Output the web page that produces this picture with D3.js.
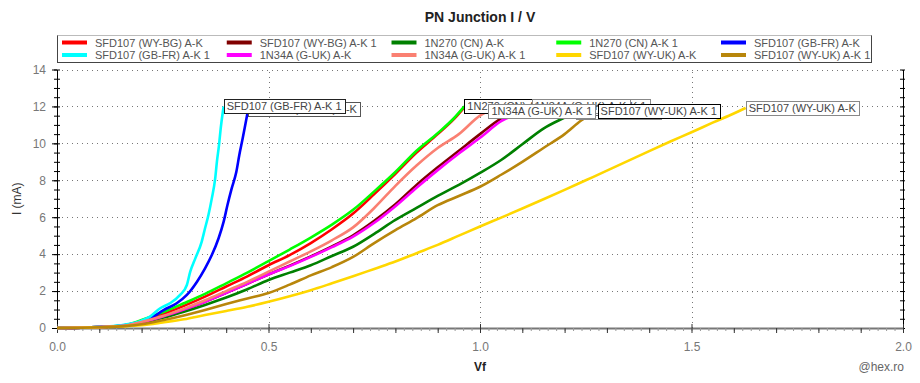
<!DOCTYPE html>
<html><head><meta charset="utf-8">
<script src="https://cdn.jsdelivr.net/npm/d3@7"></script>
<style>
html,body{margin:0;padding:0;background:#fff;}
svg{display:block;font-family:"Liberation Sans",Arial,sans-serif;}
</style></head>
<body><svg id="c" width="920" height="383"></svg>
<script>
// ---------------- DATA ----------------
const seriesNames = [
  "SFD107 (WY-BG) A-K", "SFD107 (WY-BG) A-K 1", "1N270 (CN) A-K", "1N270 (CN) A-K 1", "SFD107 (GB-FR) A-K",
  "SFD107 (GB-FR) A-K 1", "1N34A (G-UK) A-K", "1N34A (G-UK) A-K 1", "SFD107 (WY-UK) A-K", "SFD107 (WY-UK) A-K 1"
];
const seriesColors = ["#ff0000","#800000","#008000","#00ff00","#0000ff","#00ffff","#ff00ff","#fa8072","#ffd700","#b8860b"];
const labelBorders = ["#888","#888","#888","#000","#555","#222","#888","#888","#888","#000"];

// [Vf (V), I (mA)]
const wyBgAK = [[0,0],[0.1,0.05],[0.16,0.14],[0.2,0.38],[0.25,0.75],[0.3,1.2],[0.35,1.7],[0.4,2.25],[0.45,2.8],[0.5,3.4],[0.55,3.95],[0.6,4.6],[0.65,5.35],[0.7,6.2],[0.75,7.25],[0.8,8.35],[0.85,9.5],[0.9,10.5],[0.94,11.35],[0.965,12.0]];
const wyBgAK1 = [[0,0],[0.1,0.05],[0.16,0.12],[0.2,0.3],[0.25,0.62],[0.3,1.0],[0.35,1.42],[0.4,1.9],[0.45,2.4],[0.5,2.9],[0.55,3.38],[0.6,3.88],[0.65,4.42],[0.7,5.02],[0.75,5.8],[0.8,6.7],[0.85,7.75],[0.9,8.7],[0.95,9.6],[1.0,10.5],[1.05,11.35],[1.11,12.0]];
const cnAK = [[0,0],[0.1,0.05],[0.16,0.12],[0.2,0.28],[0.25,0.55],[0.3,0.88],[0.35,1.25],[0.4,1.65],[0.45,2.1],[0.5,2.6],[0.55,3.0],[0.6,3.4],[0.65,3.9],[0.7,4.4],[0.75,5.1],[0.8,5.85],[0.85,6.5],[0.9,7.15],[0.95,7.75],[1.0,8.4],[1.05,9.1],[1.1,9.95],[1.15,10.8],[1.2,11.4],[1.226,11.7]];
const cnAK1 = [[0,0],[0.1,0.05],[0.16,0.15],[0.2,0.43],[0.25,0.85],[0.3,1.34],[0.35,1.85],[0.4,2.42],[0.45,3.0],[0.5,3.62],[0.55,4.25],[0.6,4.9],[0.65,5.6],[0.7,6.4],[0.75,7.4],[0.8,8.45],[0.85,9.6],[0.9,10.55],[0.94,11.4],[0.963,12.0]];
const gbFrAK = [[0,0],[0.1,0.05],[0.15,0.12],[0.2,0.35],[0.23,0.65],[0.252,0.97],[0.283,1.34],[0.307,1.79],[0.331,2.51],[0.35,3.23],[0.366,3.95],[0.382,4.86],[0.394,5.76],[0.403,6.66],[0.413,7.56],[0.424,8.46],[0.431,9.37],[0.439,10.27],[0.445,10.99],[0.45,11.6],[0.452,11.85]];
const gbFrAK1 = [[0,0],[0.1,0.07],[0.15,0.15],[0.2,0.4],[0.22,0.62],[0.244,1.07],[0.267,1.34],[0.291,1.79],[0.307,2.33],[0.315,3.05],[0.327,3.77],[0.342,4.67],[0.35,5.4],[0.358,6.12],[0.366,7.02],[0.374,8.1],[0.378,9.0],[0.383,9.91],[0.387,10.81],[0.392,11.7],[0.394,12.0]];
const gUkAK = [[0,0],[0.1,0.05],[0.16,0.12],[0.2,0.3],[0.25,0.62],[0.3,1.0],[0.35,1.42],[0.4,1.9],[0.45,2.4],[0.5,2.9],[0.55,3.35],[0.6,3.85],[0.65,4.38],[0.7,4.95],[0.75,5.7],[0.8,6.6],[0.85,7.6],[0.9,8.55],[0.95,9.45],[1.0,10.3],[1.05,11.2],[1.088,11.6],[1.122,12.0]];
const gUkAK1 = [[0,0],[0.1,0.05],[0.16,0.12],[0.2,0.33],[0.25,0.65],[0.3,1.05],[0.35,1.5],[0.4,2.0],[0.45,2.5],[0.5,3.05],[0.55,3.6],[0.6,4.15],[0.65,4.75],[0.7,5.45],[0.75,6.5],[0.8,7.7],[0.85,8.8],[0.9,9.75],[0.95,10.5],[1.0,11.5],[1.02,11.76]];
const wyUkAK = [[0,0],[0.1,0.04],[0.15,0.08],[0.2,0.15],[0.25,0.3],[0.3,0.47],[0.35,0.7],[0.4,0.92],[0.45,1.15],[0.5,1.42],[0.55,1.72],[0.6,2.05],[0.65,2.42],[0.7,2.8],[0.75,3.2],[0.8,3.6],[0.85,4.05],[0.9,4.5],[0.95,5.0],[1.0,5.5],[1.05,5.98],[1.1,6.47],[1.15,6.97],[1.2,7.48],[1.25,8.0],[1.3,8.52],[1.35,9.05],[1.4,9.58],[1.45,10.1],[1.5,10.6],[1.55,11.12],[1.6,11.62],[1.628,11.92]];
const wyUkAK1 = [[0,0],[0.1,0.04],[0.16,0.1],[0.2,0.2],[0.25,0.42],[0.3,0.68],[0.35,0.98],[0.4,1.3],[0.45,1.6],[0.5,1.9],[0.55,2.35],[0.6,2.85],[0.65,3.3],[0.7,3.85],[0.75,4.6],[0.8,5.3],[0.85,5.95],[0.9,6.65],[0.95,7.15],[1.0,7.65],[1.05,8.3],[1.1,9.0],[1.15,9.75],[1.2,10.5],[1.24,11.25],[1.278,11.75]];

const seriesData = [wyBgAK, wyBgAK1, cnAK, cnAK1, gbFrAK, gbFrAK1, gUkAK, gUkAK1, wyUkAK, wyUkAK1];

const xTickValues = [0, 0.5, 1.0, 1.5, 2.0];
const xTickLabels = ["0.0","0.5","1.0","1.5","2.0"];
const yTickValues = [0,2,4,6,8,10,12,14];
const titleText = "PN Junction I / V";
const xTitle = "Vf";
const yTitle = "I (mA)";
const creditText = "@hex.ro";

// ---------------- CHART ----------------
const svg = d3.select("#c");
const x = d3.scaleLinear().domain([0,2]).range([57,903]);
const y = d3.scaleLinear().domain([0,14]).range([328,69.5]);

// title
svg.append("text").attr("x",480).attr("y",22).attr("text-anchor","middle")
  .attr("font-size",14).attr("font-weight","bold").attr("fill","#222").text(titleText);

// gridlines
const grid = svg.append("g");
grid.selectAll("line.h").data(yTickValues.filter(v=>v>0)).join("line")
  .attr("x1",x(0)).attr("x2",x(2)).attr("y1",d=>Math.round(y(d))+0.5).attr("y2",d=>Math.round(y(d))+0.5)
  .attr("stroke","#777").attr("stroke-width",1).attr("stroke-dasharray","1,4");
grid.selectAll("line.v").data(xTickValues.filter(v=>v>0&&v<2)).join("line")
  .attr("y1",y(0)).attr("y2",y(14)).attr("x1",d=>Math.round(x(d))+0.5).attr("x2",d=>Math.round(x(d))+0.5)
  .attr("stroke","#777").attr("stroke-width",1).attr("stroke-dasharray","1,4");

// axes
function styleAxis(g){ g.select(".domain").attr("stroke","#000"); g.selectAll(".tick line").attr("stroke","#000"); }
const yMinor = d3.range(0,14.01,0.5);
svg.append("g").attr("transform",`translate(${x(0)},0)`)
  .call(d3.axisLeft(y).tickValues(yMinor).tickSize(3).tickFormat("").tickSizeOuter(0)).call(styleAxis);
svg.append("g").attr("transform",`translate(${x(0)},0)`)
  .call(d3.axisRight(y).tickValues(yMinor).tickSize(3).tickFormat("").tickSizeOuter(0)).call(styleAxis);
svg.append("g").attr("transform",`translate(${x(0)},0)`)
  .call(d3.axisLeft(y).tickValues(yTickValues).tickSize(5).tickPadding(6).tickSizeOuter(0))
  .call(styleAxis)
  .call(g=>g.selectAll("text").attr("fill","#777").attr("font-size",12).attr("font-family","Liberation Sans, Arial"));
// right axis
svg.append("g").attr("transform",`translate(${x(2)},0)`)
  .call(d3.axisLeft(y).tickValues(yMinor).tickSize(3).tickFormat("").tickSizeOuter(0)).call(styleAxis);
svg.append("g").attr("transform",`translate(${x(2)},0)`)
  .call(d3.axisRight(y).tickValues(yMinor).tickSize(2).tickFormat("").tickSizeOuter(0)).call(styleAxis);

// bottom axis
const xFine = d3.range(0,2.001,0.02);
const xMid = d3.range(0,2.001,0.1);
svg.append("g").attr("transform",`translate(0,${y(0)})`)
  .call(d3.axisBottom(x).tickValues(xFine).tickSize(3).tickFormat("").tickSizeOuter(0))
  .call(g=>{g.select(".domain").attr("stroke","#777").attr("stroke-width",2); g.selectAll(".tick line").attr("stroke","#999");});
svg.append("g").attr("transform",`translate(0,${y(0)})`)
  .call(d3.axisBottom(x).tickValues(xMid).tickSize(5).tickFormat("").tickSizeOuter(0))
  .call(g=>{g.select(".domain").remove(); g.selectAll(".tick line").attr("stroke","#333");});
svg.append("g").attr("transform",`translate(0,${y(0)})`)
  .call(d3.axisTop(x).tickValues(xTickValues).tickSize(4).tickFormat("").tickSizeOuter(0))
  .call(g=>{g.select(".domain").remove(); g.selectAll(".tick line").attr("stroke","#333");});
svg.append("g").attr("transform",`translate(0,${y(0)})`)
  .call(d3.axisBottom(x).tickValues(xTickValues).tickSize(0).tickPadding(14).tickFormat((d,i)=>xTickLabels[i]).tickSizeOuter(0))
  .call(g=>{g.select(".domain").remove(); g.selectAll("text").attr("fill","#777").attr("font-size",12).attr("font-family","Liberation Sans, Arial");});

// axis titles
svg.append("text").attr("transform",`translate(21,${y(7)}) rotate(-90)`).attr("text-anchor","middle")
  .attr("font-size",12).attr("fill","#333").text(yTitle);
svg.append("text").attr("x",x(1)).attr("y",371).attr("text-anchor","middle")
  .attr("font-size",12).attr("font-weight","bold").attr("fill","#222").text(xTitle);
svg.append("text").attr("x",904).attr("y",371).attr("text-anchor","end")
  .attr("font-size",12).attr("fill","#666").text(creditText);

// lines
const line = d3.line().x(d=>x(d[0])).y(d=>y(d[1])).curve(d3.curveMonotoneX);
const lines = svg.append("g");
seriesData.forEach((s,i)=>{
  lines.append("path").datum(s).attr("d",line).attr("fill","none")
    .attr("stroke",seriesColors[i]).attr("stroke-width",2.6).attr("stroke-linejoin","round");
});

// end labels
const labels = svg.append("g");
seriesData.forEach((s,i)=>{
  const last = s[s.length-1];
  const px = x(last[0]), py = y(last[1]);
  const g = labels.append("g");
  const r = g.append("rect");
  const t = g.append("text").attr("x",px+3).attr("y",py+4).attr("font-size",11).attr("fill","#444").text(seriesNames[i]);
  const tw = t.node().getComputedTextLength();
  r.attr("x",Math.round(px)+0.5).attr("y",Math.round(py-7)+0.5).attr("width",Math.round(tw+6)).attr("height",14)
    .attr("fill","#fff").attr("stroke",labelBorders[i]).attr("stroke-width",1);
});

// legend
const lg = svg.append("g");
lg.append("rect").attr("x",57.5).attr("y",35.5).attr("width",814).attr("height",27)
  .attr("fill","#fff").attr("stroke","#444").attr("stroke-width",1);
lg.append("line").attr("x1",57.5).attr("x2",871.5).attr("y1",35.5).attr("y2",35.5).attr("stroke","#bbb");
seriesNames.forEach((n,i)=>{
  const col = i%5, row = Math.floor(i/5);
  const lx = 62 + col*164.75, ly = 42.5 + row*12.5;
  lg.append("line").attr("x1",lx).attr("x2",lx+25).attr("y1",ly).attr("y2",ly)
    .attr("stroke",seriesColors[i]).attr("stroke-width",4);
  lg.append("text").attr("x",lx+33).attr("y",ly+4).attr("font-size",11).attr("fill","#555").text(n);
});
</script></body></html>
